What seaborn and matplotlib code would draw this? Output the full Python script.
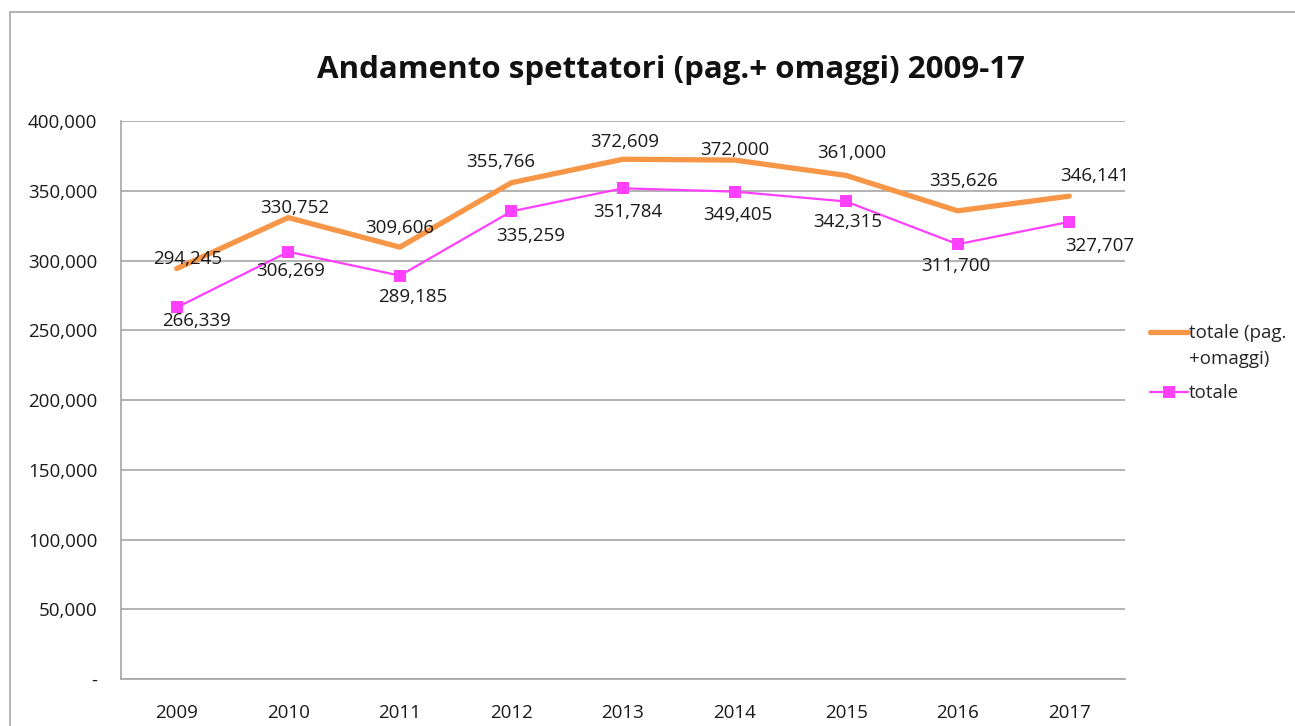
""" Andamento spettatori 2009-17 """
import numpy as np
import pandas as pd
import seaborn as sns
import matplotlib.pyplot as plt
from matplotlib.patches import Rectangle
from matplotlib.ticker import FuncFormatter, MultipleLocator

anni = ["2009", "2010", "2011", "2012", "2013", "2014", "2015", "2016", "2017"]
totale_pag_omaggi = [294245, 330752, 309606, 355766, 372609, 372000, 361000, 335626, 346141]
totale = [266339, 306269, 289185, 335259, 351784, 349405, 342315, 311700, 327707]

# label placement (pixel offsets from the point), as in the original chart
off_orange = [(11, 10), (6, 10), (0, 19), (-11, 21), (2, 17), (0, 10), (6, 22), (6, 30), (26, 20)]
off_pink = [(20, -14), (2, -19), (13, -21), (19, -25), (5, -24), (3, -23), (2, -21), (-2, -22), (31, -24)]

sns.set_theme(style="white")
plt.rcParams['font.family'] = ['Open Sans', 'DejaVu Sans']

df = pd.DataFrame({"anno": anni, "totale (pag.\n+omaggi)": totale_pag_omaggi, "totale": totale})
x = np.arange(len(anni))

fig = plt.figure(figsize=(12.95, 7.26), dpi=100)
ax = fig.add_axes([0.0934, 0.0647, 0.7753, 0.7686])

# outer chart frame
fig.patches.append(Rectangle((10 / 1295, -0.1), 1.2, 1 - 12 / 726 + 0.1, transform=fig.transFigure,
                             fill=False, edgecolor="#a6a6a6", linewidth=1.2))

sns.lineplot(x=x, y=df["totale (pag.\n+omaggi)"], ax=ax, color="#f79646", linewidth=3.8,
             label="totale (pag.\n+omaggi)")
sns.lineplot(x=x, y=df["totale"], ax=ax, color="#ff40ff", linewidth=1.6, marker="s",
             markersize=9, markeredgewidth=0, label="totale")

for i in range(len(anni)):
    ax.annotate(f"{totale_pag_omaggi[i]:,}", (x[i], totale_pag_omaggi[i]), xytext=off_orange[i],
                textcoords="offset pixels", ha="center", va="center", fontsize=13.5, color="#1a1a1a")
    ax.annotate(f"{totale[i]:,}", (x[i], totale[i]), xytext=off_pink[i],
                textcoords="offset pixels", ha="center", va="center", fontsize=13.5, color="#1a1a1a")

ax.set_xlim(-0.5, len(anni) - 0.5)
ax.set_ylim(0, 400000)
ax.yaxis.set_major_locator(MultipleLocator(50000))
ax.yaxis.set_major_formatter(FuncFormatter(lambda v, p: "-" if v == 0 else f"{int(v):,}"))
ax.set_xticks(x)
ax.set_xticklabels(anni)
ax.tick_params(axis="both", labelsize=13.5, length=0, colors="#1a1a1a")
ax.tick_params(axis="x", pad=18)
ax.tick_params(axis="y", pad=17)
ax.set_xlabel("")
ax.set_ylabel("")
ax.grid(axis="y", color="#a6a6a6", linewidth=1.2)
for s in ["left", "bottom"]:
    ax.spines[s].set_color("#a6a6a6")
    ax.spines[s].set_linewidth(1.2)
ax.spines["right"].set_visible(False)
ax.spines["top"].set_visible(False)

# title is centred on the whole chart frame, not on the plot area
fig.text(671 / 1295, 1 - 70 / 726, "Andamento spettatori (pag.+ omaggi) 2009-17", fontsize=22.5,
         fontweight="bold", ha="center", va="center", color="#111111")

leg = ax.legend(loc="upper left", bbox_to_anchor=(1.012, 0.66), frameon=False, fontsize=13.5,
                handlelength=2.0, handletextpad=0.05, borderaxespad=0.3, labelspacing=0.9)
leg.get_texts()[0].set_linespacing(1.55)
# Excel puts the handle of a wrapped entry next to its first line
h0 = leg.legend_handles[0]
h0.set_ydata(np.asarray(h0.get_ydata()) + 10)

fig.savefig("out.png", dpi=100, facecolor="white")
